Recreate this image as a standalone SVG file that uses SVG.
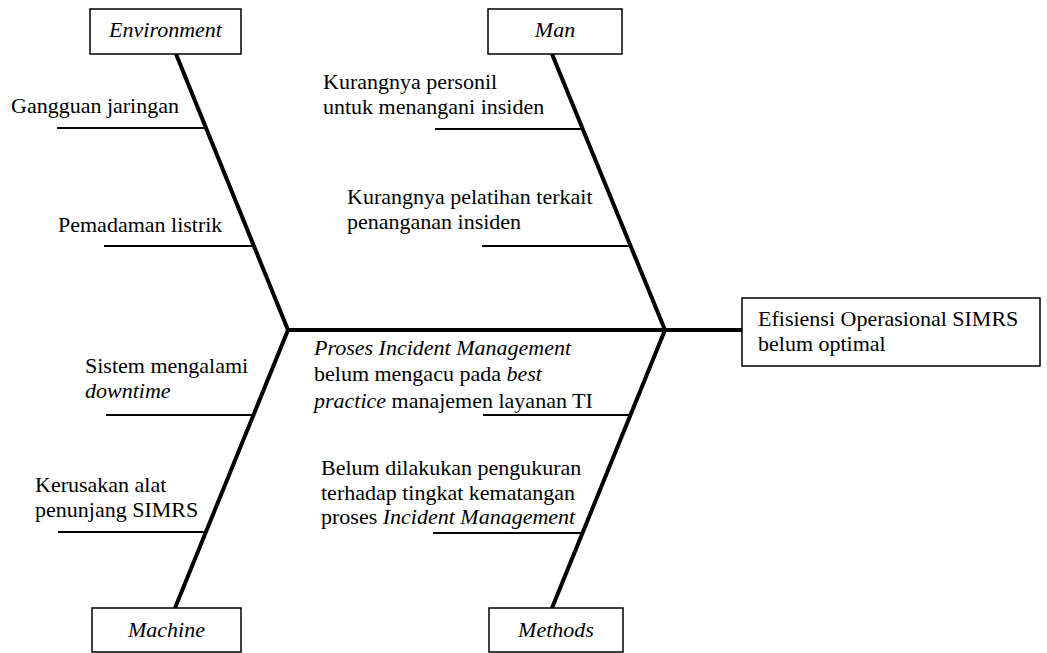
<svg xmlns="http://www.w3.org/2000/svg" width="1047" height="653" viewBox="0 0 1047 653">
<style>
.box{fill:#fff;stroke:#000;stroke-width:1.5}
.spine{fill:none;stroke:#000;stroke-width:4;stroke-linejoin:miter}
.br{stroke:#000;stroke-width:2}
</style>
<rect width="1047" height="653" fill="#fff"/>
<g id="connectors">
<path class="spine" d="M176,54 L288,330 L175,608"/>
<path class="spine" d="M552,54 L665,330 L552,608"/>
<line class="spine" x1="286" y1="330" x2="742" y2="330"/>
<line class="br" x1="57" y1="128" x2="205" y2="128"/>
<line class="br" x1="104" y1="246" x2="252" y2="246"/>
<line class="br" x1="435" y1="129" x2="582" y2="129"/>
<line class="br" x1="482" y1="246" x2="630" y2="246"/>
<line class="br" x1="106" y1="415" x2="253" y2="415"/>
<line class="br" x1="58" y1="532" x2="206" y2="532"/>
<line class="br" x1="483" y1="415" x2="630" y2="415"/>
<line class="br" x1="433" y1="533" x2="583" y2="533"/>
</g>
<g id="environment">
<rect class="box" x="90" y="9" width="151" height="45"/>
<text font-family="Times New Roman" font-size="22" font-style="italic" text-anchor="middle" x="165.5" y="37">Environment</text>
</g>
<g id="man">
<rect class="box" x="488" y="9" width="134" height="45"/>
<text font-family="Times New Roman" font-size="22" font-style="italic" text-anchor="middle" x="555" y="37">Man</text>
</g>
<g id="machine">
<rect class="box" x="92" y="608" width="149" height="44"/>
<text font-family="Times New Roman" font-size="22" font-style="italic" text-anchor="middle" x="166.5" y="637">Machine</text>
</g>
<g id="methods">
<rect class="box" x="489" y="608" width="134" height="44"/>
<text font-family="Times New Roman" font-size="22" font-style="italic" text-anchor="middle" x="556" y="637">Methods</text>
</g>
<g id="effect">
<rect class="box" x="742" y="298" width="298" height="68"/>
<text font-family="Times New Roman" font-size="22" x="758" y="326">Efisiensi Operasional SIMRS</text>
<text font-family="Times New Roman" font-size="22" x="758" y="351">belum optimal</text>
</g>
<g id="cause-gangguan">
<text font-family="Times New Roman" font-size="22" x="11" y="113">Gangguan jaringan</text>
</g>
<g id="cause-pemadaman">
<text font-family="Times New Roman" font-size="22" x="58" y="232">Pemadaman listrik</text>
</g>
<g id="cause-personil">
<text font-family="Times New Roman" font-size="22" x="323" y="89">Kurangnya personil</text>
<text font-family="Times New Roman" font-size="22" x="323" y="114">untuk menangani insiden</text>
</g>
<g id="cause-pelatihan">
<text font-family="Times New Roman" font-size="22" x="347" y="204">Kurangnya pelatihan terkait</text>
<text font-family="Times New Roman" font-size="22" x="347" y="229">penanganan insiden</text>
</g>
<g id="cause-downtime">
<text font-family="Times New Roman" font-size="22" x="85" y="373">Sistem mengalami</text>
<text font-family="Times New Roman" font-size="22" font-style="italic" x="85" y="398">downtime</text>
</g>
<g id="cause-kerusakan">
<text font-family="Times New Roman" font-size="22" x="35" y="492">Kerusakan alat</text>
<text font-family="Times New Roman" font-size="22" x="35" y="517">penunjang SIMRS</text>
</g>
<g id="cause-proses">
<text font-family="Times New Roman" font-size="22" font-style="italic" x="314" y="355">Proses Incident Management</text>
<text font-family="Times New Roman" font-size="22" x="314" y="381">belum mengacu pada <tspan font-style="italic">best</tspan></text>
<text font-family="Times New Roman" font-size="22" x="314" y="408"><tspan font-style="italic">practice</tspan> manajemen layanan TI</text>
</g>
<g id="cause-pengukuran">
<text font-family="Times New Roman" font-size="22" x="321" y="475">Belum dilakukan pengukuran</text>
<text font-family="Times New Roman" font-size="22" x="321" y="500">terhadap tingkat kematangan</text>
<text font-family="Times New Roman" font-size="22" x="321" y="524">proses <tspan font-style="italic">Incident Management</tspan></text>
</g>
</svg>
